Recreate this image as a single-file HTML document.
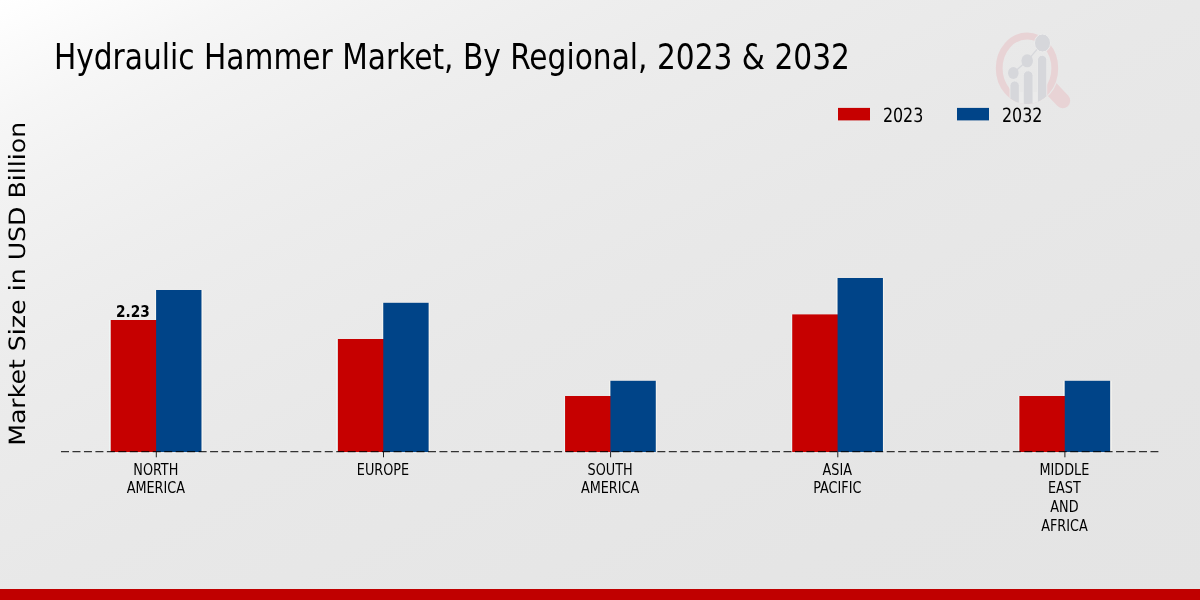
<!DOCTYPE html>
<html lang="en">
<head>
<meta charset="utf-8">
<title>Hydraulic Hammer Market, By Regional, 2023 &amp; 2032</title>
<style>
html,body{margin:0;padding:0;width:1200px;height:600px;overflow:hidden;background:#e8e8e8}
svg{display:block;position:absolute;left:0;top:0}
text{font-family:"DejaVu Sans Condensed","DejaVu Sans","Liberation Sans",sans-serif;fill:#000}
.cond{font-family:"DejaVu Sans Condensed","DejaVu Sans","Liberation Sans",sans-serif;font-stretch:condensed}
.geo{text-rendering:geometricPrecision}
.reg{font-family:"DejaVu Sans","Liberation Sans",sans-serif;font-stretch:normal;text-rendering:geometricPrecision}
</style>
</head>
<body>
<svg width="1200" height="600" viewBox="0 0 1200 600">
<defs>
<linearGradient id="bg" gradientUnits="userSpaceOnUse" x1="0" y1="0" x2="480" y2="960">
<stop offset="0" stop-color="rgb(255,255,255)"/>
<stop offset="0.045" stop-color="rgb(251,251,251)"/>
<stop offset="0.1" stop-color="rgb(246,246,246)"/>
<stop offset="0.162" stop-color="rgb(242,242,242)"/>
<stop offset="0.25" stop-color="rgb(238,238,238)"/>
<stop offset="0.31" stop-color="rgb(236,236,236)"/>
<stop offset="0.4" stop-color="rgb(234,234,234)"/>
<stop offset="0.5" stop-color="rgb(232,232,232)"/>
<stop offset="0.6" stop-color="rgb(231,231,231)"/>
<stop offset="0.8" stop-color="rgb(229,229,229)"/>
<stop offset="1.0" stop-color="rgb(228,228,228)"/>
</linearGradient>
<clipPath id="outside"><path clip-rule="evenodd" d="M900,0H1200V200H900ZM994.7,68.3a32.3,36.8 0 1,0 64.6,0a32.3,36.8 0 1,0 -64.6,0Z"/></clipPath>
<clipPath id="lens"><ellipse cx="1027" cy="68.3" rx="31.2" ry="35.7"/></clipPath>
</defs>
<rect x="0" y="0" width="1200" height="600" fill="url(#bg)"/>
<g id="logo">
<line x1="1045" y1="82" x2="1062.700" y2="100.700" stroke="#e8d3d5" stroke-width="15" stroke-linecap="round" clip-path="url(#outside)"/>
<ellipse cx="1027" cy="68.300" rx="27.800" ry="32.300" fill="none" stroke="#e8d3d5" stroke-width="6.800"/>
<g clip-path="url(#lens)" fill="#d6d7db" stroke="#ececec" stroke-width="0.800">
<rect x="1018" y="92" width="6.500" height="14" fill="#ebebeb" stroke="none"/>
<rect x="1032" y="92" width="6.500" height="14" fill="#ebebeb" stroke="none"/>
<rect x="1010" y="81" width="9.300" height="30" rx="4.600"/>
<rect x="1023.300" y="70.800" width="9.700" height="40" rx="4.800"/>
<rect x="1037.500" y="55.300" width="9.300" height="55" rx="4.600"/>
</g>
<polyline points="1013.300,73 1027.200,60.800 1042.500,43" fill="none" stroke="#d6d7db" stroke-width="1.200"/>
<ellipse cx="1013.300" cy="73" rx="5.300" ry="6" fill="#d6d7db"/>
<ellipse cx="1027.200" cy="60.800" rx="5.800" ry="6.500" fill="#d6d7db"/>
<ellipse cx="1042.500" cy="43" rx="8" ry="9" fill="#d6d7db" stroke="#ececec" stroke-width="1"/>
</g>
<text class="cond" transform="translate(53.9,68.8) scale(0.9425,1)" font-size="35">Hydraulic Hammer Market, By Regional, 2023 &amp; 2032</text>
<text class="reg" transform="translate(25,283.8) scale(0.89,1) rotate(-90)" font-size="25.23" text-anchor="middle">Market Size in USD Billion</text>
<rect x="838" y="107.9" width="32" height="12.5" fill="#c60000"/>
<text class="cond geo" transform="translate(882.9,121.5) scale(0.897,1)" font-size="19.7">2023</text>
<rect x="957" y="107.9" width="32" height="12.5" fill="#004488"/>
<text class="cond geo" transform="translate(1002.0,121.5) scale(0.897,1)" font-size="19.7">2032</text>
<rect x="109" y="320.0" width="1" height="132.0" fill="#f0ffff" fill-opacity="0.5"/>
<rect x="202" y="290.0" width="1" height="162.0" fill="#fffdf6" fill-opacity="0.5"/>
<rect x="155" y="290.0" width="1" height="30.0" fill="#fffdf6" fill-opacity="0.5"/>
<rect x="110.75" y="320.0" width="46.35" height="132.0" fill="#c60000"/>
<rect x="156.10" y="290.0" width="45.35" height="162.0" fill="#004488"/>
<rect x="336" y="339.0" width="1" height="113.0" fill="#f0ffff" fill-opacity="0.5"/>
<rect x="429" y="302.8" width="1" height="149.2" fill="#fffdf6" fill-opacity="0.5"/>
<rect x="382" y="302.8" width="1" height="36.2" fill="#fffdf6" fill-opacity="0.5"/>
<rect x="337.91" y="339.0" width="46.35" height="113.0" fill="#c60000"/>
<rect x="383.26" y="302.8" width="45.35" height="149.2" fill="#004488"/>
<rect x="564" y="396.0" width="1" height="56.0" fill="#f0ffff" fill-opacity="0.5"/>
<rect x="656" y="380.8" width="1" height="71.2" fill="#fffdf6" fill-opacity="0.5"/>
<rect x="609" y="380.8" width="1" height="15.2" fill="#fffdf6" fill-opacity="0.5"/>
<rect x="565.07" y="396.0" width="46.35" height="56.0" fill="#c60000"/>
<rect x="610.42" y="380.8" width="45.35" height="71.2" fill="#004488"/>
<rect x="791" y="314.4" width="1" height="137.6" fill="#f0ffff" fill-opacity="0.5"/>
<rect x="883" y="278.0" width="1" height="174.0" fill="#fffdf6" fill-opacity="0.5"/>
<rect x="836" y="278.0" width="1" height="36.4" fill="#fffdf6" fill-opacity="0.5"/>
<rect x="792.23" y="314.4" width="46.35" height="137.6" fill="#c60000"/>
<rect x="837.58" y="278.0" width="45.35" height="174.0" fill="#004488"/>
<rect x="1018" y="396.0" width="1" height="56.0" fill="#f0ffff" fill-opacity="0.5"/>
<rect x="1111" y="380.8" width="1" height="71.2" fill="#fffdf6" fill-opacity="0.5"/>
<rect x="1063" y="380.8" width="1" height="15.2" fill="#fffdf6" fill-opacity="0.5"/>
<rect x="1019.39" y="396.0" width="46.35" height="56.0" fill="#c60000"/>
<rect x="1064.74" y="380.8" width="45.35" height="71.2" fill="#004488"/>
<text class="cond" font-weight="bold" transform="translate(132.9,317) scale(0.965,1)" font-size="15.8" text-anchor="middle">2.23</text>
<line x1="61" y1="451.65" x2="1158.4" y2="451.65" stroke="#000" stroke-opacity="0.78" stroke-width="1.2" stroke-dasharray="8 3.468"/>
<line x1="156.3" y1="452" x2="156.3" y2="457.3" stroke="#222" stroke-width="1"/>
<text class="cond" transform="translate(155.8,474.7) scale(0.92,1)" font-size="15.5" text-anchor="middle">NORTH</text>
<text class="cond" transform="translate(155.8,493.3) scale(0.92,1)" font-size="15.5" text-anchor="middle">AMERICA</text>
<line x1="383.5" y1="452" x2="383.5" y2="457.3" stroke="#222" stroke-width="1"/>
<text class="cond" transform="translate(383.0,474.7) scale(0.92,1)" font-size="15.5" text-anchor="middle">EUROPE</text>
<line x1="610.6" y1="452" x2="610.6" y2="457.3" stroke="#222" stroke-width="1"/>
<text class="cond" transform="translate(610.1,474.7) scale(0.92,1)" font-size="15.5" text-anchor="middle">SOUTH</text>
<text class="cond" transform="translate(610.1,493.3) scale(0.92,1)" font-size="15.5" text-anchor="middle">AMERICA</text>
<line x1="837.8" y1="452" x2="837.8" y2="457.3" stroke="#222" stroke-width="1"/>
<text class="cond" transform="translate(837.3,474.7) scale(0.92,1)" font-size="15.5" text-anchor="middle">ASIA</text>
<text class="cond" transform="translate(837.3,493.3) scale(0.92,1)" font-size="15.5" text-anchor="middle">PACIFIC</text>
<line x1="1064.9" y1="452" x2="1064.9" y2="457.3" stroke="#222" stroke-width="1"/>
<text class="cond" transform="translate(1064.4,474.7) scale(0.92,1)" font-size="15.5" text-anchor="middle">MIDDLE</text>
<text class="cond" transform="translate(1064.4,493.3) scale(0.92,1)" font-size="15.5" text-anchor="middle">EAST</text>
<text class="cond" transform="translate(1064.4,511.9) scale(0.92,1)" font-size="15.5" text-anchor="middle">AND</text>
<text class="cond" transform="translate(1064.4,530.5) scale(0.92,1)" font-size="15.5" text-anchor="middle">AFRICA</text>
<rect x="0" y="589" width="1200" height="11" fill="#c00000"/>
</svg>
</body>
</html>
